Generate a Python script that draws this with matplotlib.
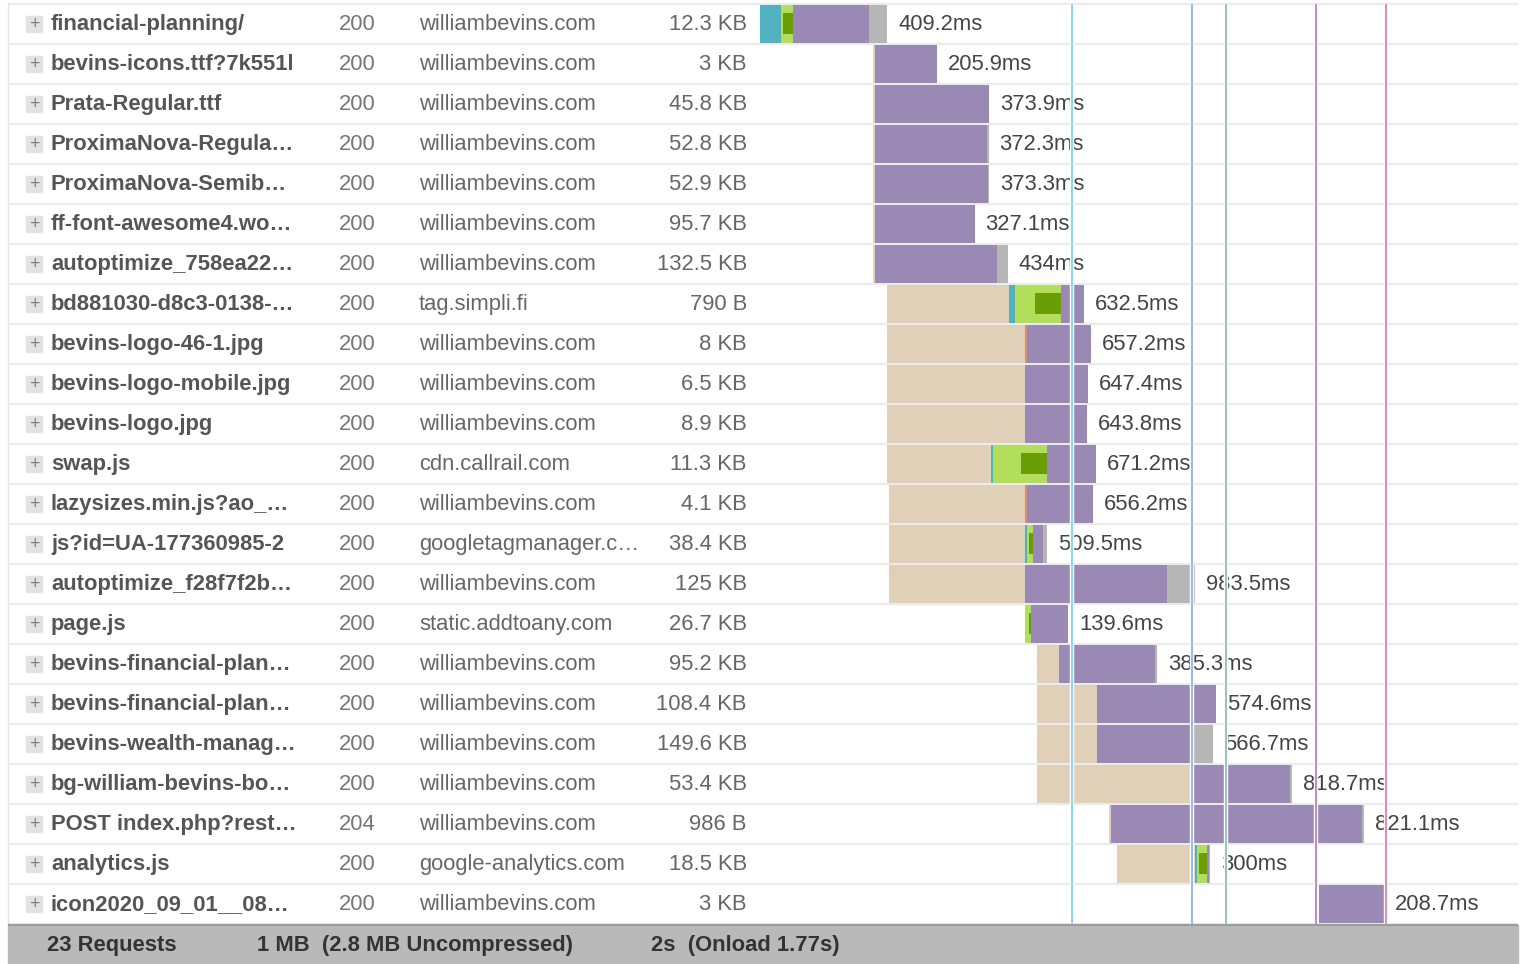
import matplotlib
matplotlib.use("Agg")
import matplotlib.pyplot as plt
from matplotlib.patches import Rectangle

plt.rcParams['font.family'] = ['Liberation Sans', 'DejaVu Sans']

# request table
names = ['financial-planning/', 'bevins-icons.ttf?7k551l', 'Prata-Regular.ttf',
         'ProximaNova-Regula…', 'ProximaNova-Semib…', 'ff-font-awesome4.wo…',
         'autoptimize_758ea22…', 'bd881030-d8c3-0138-…', 'bevins-logo-46-1.jpg',
         'bevins-logo-mobile.jpg', 'bevins-logo.jpg', 'swap.js',
         'lazysizes.min.js?ao_…', 'js?id=UA-177360985-2', 'autoptimize_f28f7f2b…',
         'page.js', 'bevins-financial-plan…', 'bevins-financial-plan…',
         'bevins-wealth-manag…', 'bg-william-bevins-bo…', 'POST index.php?rest…',
         'analytics.js', 'icon2020_09_01__08…']
status = [200] * 20 + [204, 200, 200]
domains = ['williambevins.com'] * 7 + ['tag.simpli.fi'] + ['williambevins.com'] * 3 + \
          ['cdn.callrail.com', 'williambevins.com', 'googletagmanager.c…',
           'williambevins.com', 'static.addtoany.com'] + ['williambevins.com'] * 5 + \
          ['google-analytics.com', 'williambevins.com']
sizes = ['12.3 KB', '3 KB', '45.8 KB', '52.8 KB', '52.9 KB', '95.7 KB', '132.5 KB',
         '790 B', '8 KB', '6.5 KB', '8.9 KB', '11.3 KB', '4.1 KB', '38.4 KB', '125 KB',
         '26.7 KB', '95.2 KB', '108.4 KB', '149.6 KB', '53.4 KB', '986 B', '18.5 KB', '3 KB']
totals = [409.2, 205.9, 373.9, 372.3, 373.3, 327.1, 434, 632.5, 657.2, 647.4, 643.8,
          671.2, 656.2, 509.5, 983.5, 139.6, 385.3, 574.6, 566.7, 818.7, 821.1, 300, 208.7]

# timing phases in ms
start   = [0, 363, 363, 363, 363, 363, 363, 408, 408, 408, 408, 408, 415, 415, 415,
           852, 891, 891, 891, 891, 1122, 1148, 1797]
blocked = [0, 6, 6, 6, 6, 6, 6, 392, 444, 444, 444, 334, 437, 437, 437,
           0, 71, 193, 193, 504, 6, 251, 0]
dns     = [68, 0, 0, 0, 0, 0, 0, 19, 0, 0, 0, 6, 0, 6, 0, 0, 0, 0, 0, 0, 0, 6, 0]
connect = [39, 0, 0, 0, 0, 0, 0, 148, 0, 0, 0, 174, 0, 19, 0, 19, 0, 0, 0, 0, 0, 32, 0]
ssl     = [32, 0, 0, 0, 0, 0, 0, 84, 0, 0, 0, 84, 0, 13, 0, 6, 0, 0, 0, 0, 0, 26, 0]
send    = [0, 0, 0, 0, 0, 0, 0, 0, 6, 0, 0, 0, 6, 0, 0, 0, 0, 0, 0, 0, 0, 0, 0]
wait    = [244, 200, 368, 360, 363, 321, 392, 74, 207, 203, 200, 157, 213, 32, 457,
           120, 309, 381, 305, 309, 809, 6, 209]
receive = [58, 0, 0, 6, 4, 0, 36, 0, 0, 0, 0, 0, 0, 15, 90, 0, 6, 0, 68, 6, 6, 3, 0]

marker_ms = [1003, 1389, 1498, 1788, 2013]
marker_colors = ['#8fd6f5', '#9db8ef', '#a1c2c2', '#c08cc9', '#d990b3']

footer = ['23 Requests', '1 MB  (2.8 MB Uncompressed)', '2s  (Onload 1.77s)']

W, H = 1523, 964
FS = 15.8
fig = plt.figure(figsize=(W / 100, H / 100), dpi=100)
fig.patch.set_facecolor('white')

# background / table axes in pixel units
bg = fig.add_axes([0, 0, 1, 1])
bg.set_xlim(0, W)
bg.set_ylim(H, 0)
bg.axis('off')

n = len(names)
for i in range(n + 1):
    bg.hlines(4 + 40 * i, 8, 1518, color='#ebebeb', lw=1.6, zorder=1)
bg.vlines(8.5, 4, 925, color='#e6e6e6', lw=1, zorder=1)

for i in range(n):
    yc = 24.5 + 40 * i
    bg.add_patch(Rectangle((26, yc - 8.5), 16, 16, color='#e2e2e2', zorder=2))
    bg.text(34, yc, '+', ha='center', va='center', fontsize=13, color='#808080', zorder=3)
    bg.text(51, yc, names[i], ha='left', va='center', fontsize=FS,
            fontweight='bold', color='#555555')
    bg.text(339, yc, str(status[i]), ha='left', va='center', fontsize=FS, color='#777777')
    bg.text(419, yc, domains[i], ha='left', va='center', fontsize=FS, color='#666666')
    bg.text(747, yc, sizes[i], ha='right', va='center', fontsize=FS, color='#666666')

# footer
bg.add_patch(Rectangle((8, 925), 1510, 39, color='#b9b9b9', zorder=2))
bg.hlines(925, 8, 1518, color='#9c9c9c', lw=1.5, zorder=3)
for xpos, txt in zip([47, 257, 651], footer):
    bg.text(xpos, 946, txt, ha='left', va='center', fontsize=FS,
            fontweight='bold', color='#333333', zorder=4)

# waterfall axes
px_per_ms = 0.311
ax = fig.add_axes([760 / W, (H - 924) / H, 758 / W, 920 / H])
ax.set_facecolor('none')
ax.set_xlim(0, 758 / px_per_ms)
ax.set_ylim(n, 0)
ax.axis('off')

phases = [(blocked, '#e0d0b7'), (dns, '#52b1c1'), (connect, '#b3de5b'),
          (send, '#e08a6c'), (wait, '#9a88b5'), (receive, '#b6b6b6')]
for i in range(n):
    left = start[i]
    for vals, col in phases:
        if vals[i] > 0:
            ax.barh(i + 0.5, vals[i], left=left, height=0.94, color=col,
                    linewidth=0, zorder=2)
            if vals is connect and ssl[i] > 0:
                ax.barh(i + 0.49, ssl[i], left=left + vals[i] - ssl[i], height=0.54,
                        color='#6a9e05', linewidth=0, zorder=3)
        left += vals[i]
    ax.annotate(f'{totals[i]:g}ms', (left, i + 0.5), xytext=(11, -0.5),
                textcoords='offset pixels', ha='left', va='center',
                fontsize=FS, color='#444444', zorder=3, annotation_clip=False)

for x, c in zip(marker_ms, marker_colors):
    ax.axvline(x, color='white', lw=3.2, zorder=4)
    ax.axvline(x, color=c, lw=1.5, zorder=5)

fig.savefig('out.png', dpi=100)
